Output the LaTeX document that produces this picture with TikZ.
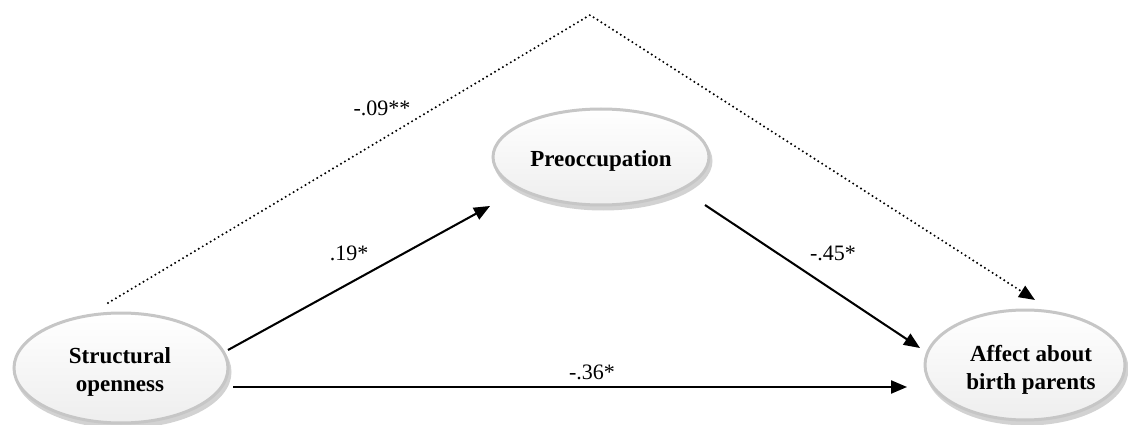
\documentclass[tikz,border=0pt]{standalone}
\usepackage{fontspec}
\setmainfont{Liberation Serif}
\usetikzlibrary{shapes.geometric,arrows.meta,calc}
\definecolor{ellgray}{RGB}{198,198,198}
\definecolor{ellfill}{RGB}{238,238,238}
\definecolor{shadegray}{RGB}{210,210,210}
\begin{document}
\begin{tikzpicture}[x=1pt,y=-1pt,
  var/.style={ellipse, draw=ellgray, line width=3pt, top color=white, bottom color=ellfill,
    inner sep=0pt},
  vartext/.style={font=\bfseries\fontsize{23}{28}\selectfont, align=center, inner sep=0pt},
  varshadow/.style={ellipse, draw=shadegray, line width=3pt, fill=shadegray, inner sep=0pt},
  path/.style={line width=2pt, -{Triangle[length=16pt,width=13pt]}},
  pathshadow/.style={line width=2pt, draw=shadegray, -{Triangle[length=16pt,width=13pt]}, shift={(2,3)}},
  dotline/.style={line width=2.2pt, dash pattern=on 0pt off 4.6pt, line cap=round},
  coef/.style={font=\fontsize{22}{24}\selectfont, inner sep=0pt}]
\useasboundingbox (0,0) rectangle (1128,425);

% shadows of ellipses
\node[varshadow, minimum width=214pt, minimum height=110pt] (soS) at (123,372) {};
\node[varshadow, minimum width=216pt, minimum height=96pt] (preS) at (603,161) {};
\node[varshadow, minimum width=200pt, minimum height=110pt] (affS) at (1027,369) {};

% ellipses
\node[var, minimum width=214pt, minimum height=110pt] (so) at (121,368) {};
\node[var, minimum width=216pt, minimum height=96pt] (pre) at (601,157) {};
\node[var, minimum width=200pt, minimum height=110pt] (aff) at (1025,365) {};

% texts of the ellipses
\node[vartext] (soT) at (120,372) {Structural\\openness};
\node[vartext] (preT) at (601,161) {Preoccupation};
\node[vartext] (affT) at (1031,370) {Affect about\\birth parents};

% connector end points
\coordinate (s1) at (228,350);
\coordinate (p1) at (490,206);
\coordinate (p2) at (705,205);
\coordinate (a1) at (920,348);
\coordinate (s2) at (233,387);
\coordinate (a2) at (907,387);
\coordinate (s3) at (108,303);
\coordinate (apex) at (590,15);
\coordinate (a3) at (1035,300);

% shadows of connectors
\draw[pathshadow] (s1) -- (p1);
\draw[pathshadow] (p2) -- (a1);
\draw[pathshadow] (s2) -- (a2);
\draw[dotline, draw=shadegray, shift={(2,4)}] (s3) -- (apex) -- (a3);

% connectors
\draw[path] (s1) -- (p1);
\draw[path] (p2) -- (a1);
\draw[path] (s2) -- (a2);
\draw[dotline, -{Triangle[length=16pt,width=13pt]}] (s3) -- (apex) -- (a3);

% coefficients
\node[coef] (c1) at (382,108) {-.09**};
\node[coef] (c2) at (349,253) {.19*};
\node[coef] (c3) at (833,253) {-.45*};
\node[coef] (c4) at (592,372) {-.36*};
\end{tikzpicture}
\end{document}
